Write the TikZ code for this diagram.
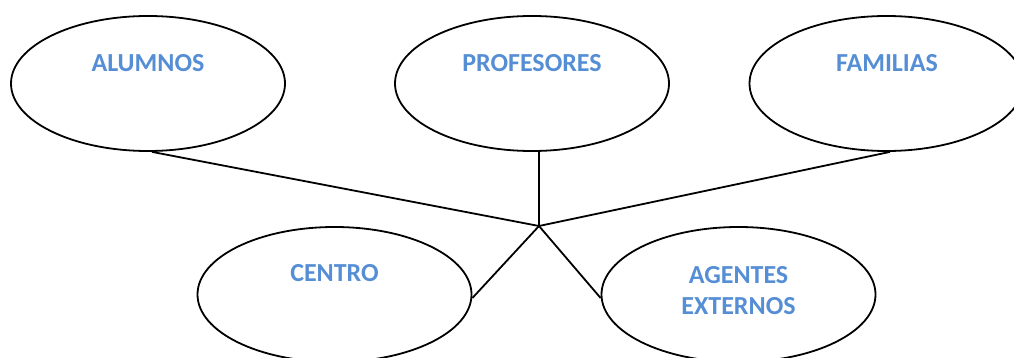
\documentclass[tikz,border=0pt]{standalone}
\usepackage{fontspec}
\setmainfont{Carlito}
\usetikzlibrary{shapes.geometric}
\definecolor{txtblue}{HTML}{558ED5}
\tikzset{
  oval/.style={ellipse, draw=black, line width=1.8pt, minimum width=274pt, minimum height=135pt, inner sep=0pt},
  lbl/.style={text=txtblue, font=\fontsize{26}{31}\selectfont\bfseries, align=center, inner sep=0pt},
  conn/.style={draw=black, line width=1.8pt}
}
\begin{document}
\begin{tikzpicture}[x=1pt,y=-1pt]
\useasboundingbox (0,0) rectangle (1014,358);
\node[oval] (al) at (148,83.5) {};
\node[oval] (pr) at (532,83.5) {};
\node[oval] (fa) at (886.5,83.5) {};
\node[oval] (ce) at (334.5,294.5) {};
\node[oval] (ag) at (738.5,294.5) {};
\node[lbl] (alt) at (148,63.5) {ALUMNOS};
\node[lbl] (prt) at (532,63.5) {PROFESORES};
\node[lbl] (fat) at (887,63.5) {FAMILIAS};
\node[lbl] (cet) at (334.5,273.5) {CENTRO};
\node[lbl] (agt) at (738.5,291) {AGENTES\\EXTERNOS};
\coordinate (hub) at (539,226);
\draw[conn] ([xshift=4pt]al.south) -- (hub);
\draw[conn] ([xshift=7pt]pr.south) -- (hub);
\draw[conn] ([xshift=3.5pt]fa.south) -- (hub);
\draw[conn] (hub) -- ([yshift=-3.5pt]ce.east);
\draw[conn] (hub) -- ([yshift=-3.5pt]ag.west);
\end{tikzpicture}
\end{document}
